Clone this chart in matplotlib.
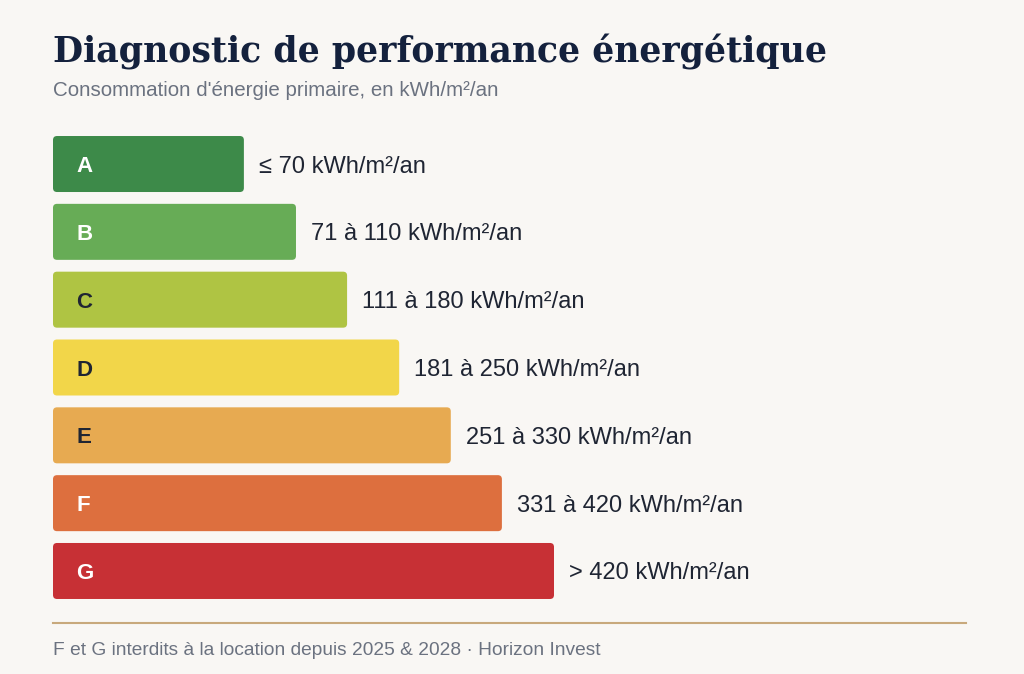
import matplotlib
matplotlib.use("Agg")
import matplotlib.pyplot as plt
from matplotlib.patches import FancyBboxPatch

# Classes DPE
classes = ['A', 'B', 'C', 'D', 'E', 'F', 'G']
bar_widths = [38.1, 48.5, 58.7, 69.1, 79.4, 89.6, 100.0]  # longueur relative des barres
ranges = ['≤ 70 kWh/m²/an', '71 à 110 kWh/m²/an', '111 à 180 kWh/m²/an',
          '181 à 250 kWh/m²/an', '251 à 330 kWh/m²/an', '331 à 420 kWh/m²/an',
          '> 420 kWh/m²/an']
colors = ['#3d8a49', '#67ac56', '#afc443', '#f2d649', '#e7aa51', '#dd6f3e', '#c73035']
letter_colors = ['white', 'white', '#1f2533', '#1f2533', '#1f2533', 'white', 'white']

BG = '#f9f7f4'
W, H = 1024, 674

fig = plt.figure(figsize=(W / 100, H / 100), dpi=100, facecolor=BG)

# zone des barres (en pixels -> fraction)
left_px, right_px = 53, 966
top_px, bot_px = 130.1, 604.9
ax = fig.add_axes([left_px / W, 1 - bot_px / H, (right_px - left_px) / W, (bot_px - top_px) / H])
ax.set_facecolor(BG)
px_per_unit = 501 / 100.0
ax.set_xlim(0, (right_px - left_px) / px_per_unit)
ax.set_ylim(len(classes) - 0.5, -0.5)
ax.axis('off')

row_px = (bot_px - top_px) / len(classes)
bar_h = 56 / row_px
radius_x = 4 / px_per_unit
radius_y = 4 / row_px

for i, (c, w, r) in enumerate(zip(classes, bar_widths, ranges)):
    box = FancyBboxPatch((0, i - bar_h / 2), w, bar_h,
                         boxstyle=f"round,pad=0,rounding_size={radius_x}",
                         mutation_aspect=radius_y / radius_x,
                         facecolor=colors[i], edgecolor='none')
    ax.add_patch(box)
    ax.text(23 / px_per_unit, i, c, ha='left', va='center_baseline', fontsize=16,
            fontweight='bold', color=letter_colors[i], family='Liberation Sans')
    ax.text(w + 15 / px_per_unit, i, r, ha='left', va='center_baseline', fontsize=17,
            color='#1f2533', family='Liberation Sans')

# titre et sous-titre
fig.text(53 / W, 1 - 63 / H, "Diagnostic de performance énergétique", ha='left', va='baseline',
         fontsize=25, fontweight='bold', color='#14213d', family='DejaVu Serif')
fig.text(53 / W, 1 - 96 / H, "Consommation d'énergie primaire, en kWh/m²/an", ha='left', va='baseline',
         fontsize=14.8, color='#6b7280', family='Liberation Sans')

# ligne et pied de page
fig.add_artist(plt.Line2D([left_px / W, right_px / W], [1 - 622.5 / H, 1 - 622.5 / H],
                          color='#c8a97c', linewidth=1.5))
fig.text(53 / W, 1 - 655 / H, "F et G interdits à la location depuis 2025 & 2028 · Horizon Invest",
         ha='left', va='baseline', fontsize=13.8, color='#6b7280', family='Liberation Sans')

fig.savefig('out.png', dpi=100, facecolor=BG)
